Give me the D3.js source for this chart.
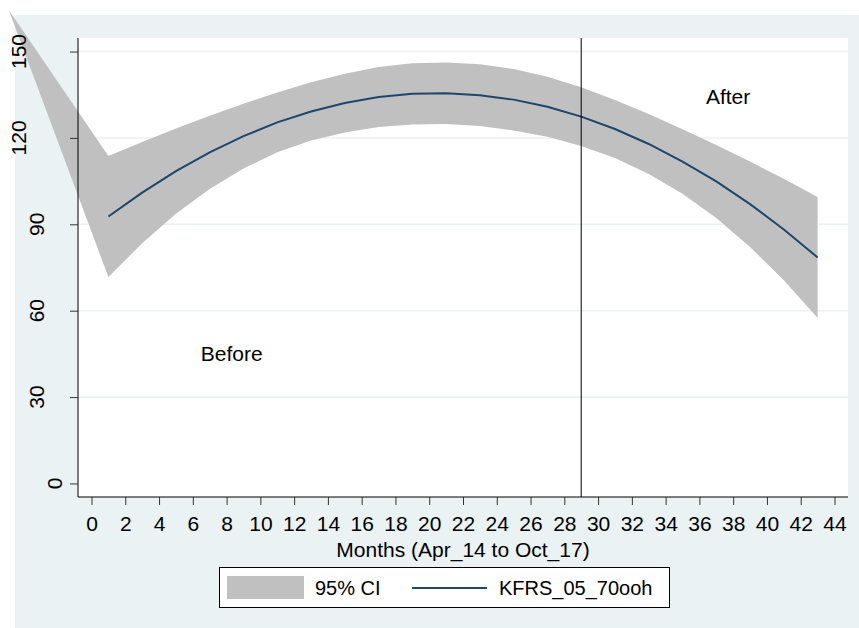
<!DOCTYPE html>
<html>
<head>
<meta charset="utf-8">
<script src="https://cdn.jsdelivr.net/npm/d3@7"></script>
<style>
  body { margin: 0; background: #fff; }
  svg text { font-family: "Liberation Sans", Arial, sans-serif; fill: #000; }
</style>
</head>
<body>
<div id="chart"></div>
<script>
// months where the fit is evaluated
const months = [1, 3, 5, 7, 9, 11, 13, 15, 17, 19, 21, 23, 25, 27, 29, 31, 33, 35, 37, 39, 41, 43];
// fitted values (KFRS_05_70ooh)
const fitValues = [92.7, 101.0, 108.5, 115.0, 120.6, 125.4, 129.2, 132.1, 134.2, 135.3, 135.5,
  134.8, 133.3, 130.8, 127.4, 123.1, 117.9, 111.8, 104.9, 97.0, 88.2, 78.5];
// 95% CI bounds
const ciUpper = [113.7, 118.6, 123.3, 127.7, 131.9, 135.8, 139.3, 142.3, 144.6, 145.9, 146.2,
  145.6, 143.9, 141.2, 137.6, 133.2, 128.3, 123.0, 117.5, 111.8, 105.8, 99.5];
const ciLower = [71.7, 83.4, 93.7, 102.3, 109.4, 115.0, 119.1, 121.9, 123.8, 124.7, 124.8,
  124.1, 122.6, 120.4, 117.2, 113.0, 107.5, 100.6, 92.2, 82.1, 70.6, 57.5];
// stray point where the CI band starts (outside the plot)
const ciStart = { x: -4.9, y: 164.4 };

const xTicks = d3.range(0, 45, 2);
const yTicks = [0, 30, 60, 90, 120, 150];
const cutoffMonth = 29;
const notes = [
  { label: "Before", x: 8.3, y: 45 },
  { label: "After", x: 37.7, y: 134.3 }
];
const xTitle = "Months (Apr_14 to Oct_17)";
const legendItems = ["95% CI", "KFRS_05_70ooh"];

const W = 859, H = 628;
const plot = { left: 78, right: 848, top: 38, bottom: 497 };
const navy = "#1a476f", bandGray = "#c0c0c0", bg = "#eaf2f3";

const svg = d3.select("#chart").append("svg")
  .attr("width", W)
  .attr("height", H);

const x = d3.scaleLinear().domain([-0.8, 44.8]).range([plot.left, plot.right]);
const y = d3.scaleLinear().domain([-4.7, 154.7]).range([plot.bottom, plot.top]);

// graph region + plot region
svg.append("rect").attr("x", 15).attr("y", 15).attr("width", W - 15).attr("height", H - 15).attr("fill", bg);
svg.append("rect").attr("x", plot.left).attr("y", plot.top)
  .attr("width", plot.right - plot.left).attr("height", plot.bottom - plot.top).attr("fill", "#fff");

// gridlines
svg.append("g").selectAll("line")
  .data(yTicks.filter(d => d > 0))
  .enter().append("line")
  .attr("x1", plot.left).attr("x2", plot.right)
  .attr("y1", d => y(d)).attr("y2", d => y(d))
  .attr("stroke", bg).attr("stroke-width", 1.5);

// CI band
const band = [{ x: ciStart.x, lo: ciStart.y, hi: ciStart.y }]
  .concat(months.map((m, i) => ({ x: m, lo: ciLower[i], hi: ciUpper[i] })));
svg.append("path")
  .datum(band)
  .attr("fill", bandGray)
  .attr("d", d3.area().x(d => x(d.x)).y0(d => y(d.lo)).y1(d => y(d.hi)));

// fitted line
svg.append("path")
  .datum(months.map((m, i) => [m, fitValues[i]]))
  .attr("fill", "none")
  .attr("stroke", navy)
  .attr("stroke-width", 2)
  .attr("d", d3.line().x(d => x(d[0])).y(d => y(d[1])));

// cutoff line
svg.append("line")
  .attr("x1", x(cutoffMonth)).attr("x2", x(cutoffMonth))
  .attr("y1", plot.top).attr("y2", plot.bottom)
  .attr("stroke", "#000").attr("stroke-width", 1);

// axes
const yAxis = svg.append("g")
  .attr("transform", `translate(${plot.left},0)`)
  .call(d3.axisLeft(y).tickValues(yTicks).tickSize(8).tickFormat(""));
yAxis.select(".domain").attr("d", `M0,${plot.top}V${plot.bottom}`).attr("stroke", "#000");
yAxis.selectAll(".tick line").attr("stroke", "#333");

// rotated y labels; offset grows with label length like the original
svg.append("g").selectAll("text")
  .data(yTicks)
  .enter().append("text")
  .attr("transform", d => {
    const n = String(d).length;
    return `translate(${54.5 - 18 * (n - 1)},${y(d)}) rotate(-90)`;
  })
  .attr("text-anchor", "middle")
  .attr("dy", "0.36em")
  .style("font-size", "21px")
  .text(d => d);

const xAxis = svg.append("g")
  .attr("transform", `translate(0,${plot.bottom})`)
  .call(d3.axisBottom(x).tickValues(xTicks).tickSize(8).tickPadding(5));
xAxis.select(".domain").attr("d", `M${plot.left},0H${plot.right}`).attr("stroke", "#000");
xAxis.selectAll(".tick line").attr("stroke", "#333");
xAxis.selectAll(".tick text")
  .attr("dy", null).attr("y", 34)
  .style("font-size", "21px")
  .style("font-family", "Liberation Sans, Arial, sans-serif")
  .attr("fill", "#000");

svg.append("text")
  .attr("x", (plot.left + plot.right) / 2)
  .attr("y", 557)
  .attr("text-anchor", "middle")
  .style("font-size", "21px")
  .text(xTitle);

// annotations
svg.append("g").selectAll("text")
  .data(notes)
  .enter().append("text")
  .attr("x", d => x(d.x))
  .attr("y", d => y(d.y))
  .attr("dy", "0.36em")
  .attr("text-anchor", "middle")
  .style("font-size", "21px")
  .text(d => d.label);

// legend
const lg = svg.append("g");
lg.append("rect").attr("x", 219.5).attr("y", 567.5).attr("width", 450).attr("height", 40)
  .attr("fill", "#fff").attr("stroke", "#000").attr("stroke-width", 1);
lg.append("rect").attr("x", 227).attr("y", 576).attr("width", 77).attr("height", 23).attr("fill", bandGray);
lg.append("text").attr("x", 315).attr("y", 595).style("font-size", "20px").text(legendItems[0]);
lg.append("line").attr("x1", 412).attr("x2", 487).attr("y1", 588).attr("y2", 588)
  .attr("stroke", navy).attr("stroke-width", 2);
lg.append("text").attr("x", 499).attr("y", 595).style("font-size", "20px").text(legendItems[1]);
</script>
</body>
</html>
